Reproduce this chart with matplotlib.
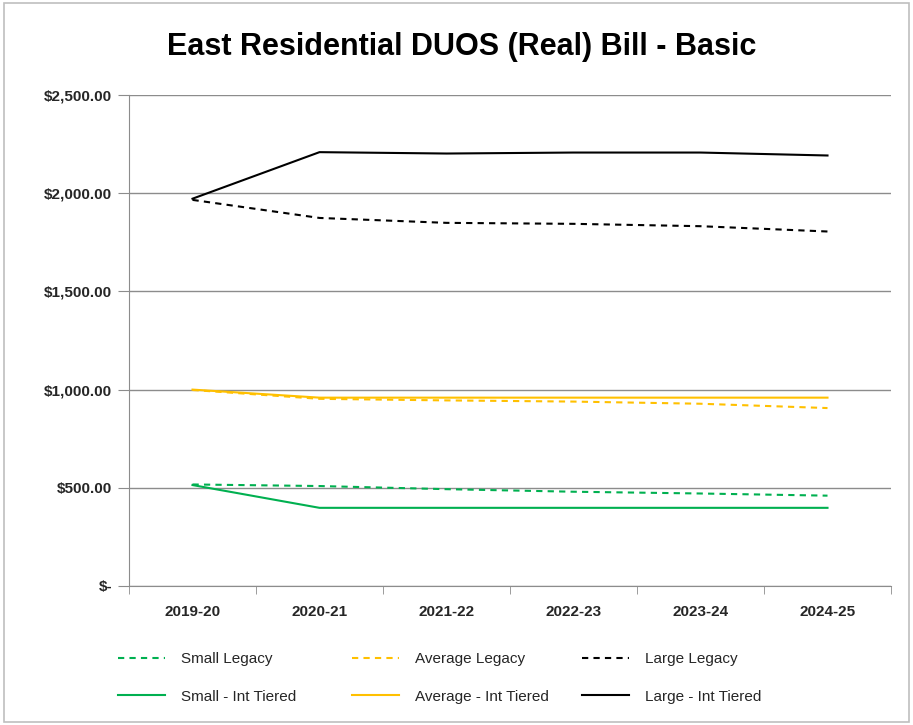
import matplotlib
matplotlib.use("Agg")
import matplotlib.pyplot as plt
from matplotlib.ticker import FuncFormatter, FixedLocator
from matplotlib.patches import Rectangle

plt.rcParams['font.family'] = ['Liberation Sans', 'DejaVu Sans']

years = ["2019-20", "2020-21", "2021-22", "2022-23", "2023-24", "2024-25"]
small_legacy = [517, 509, 493, 480, 471, 460]
average_legacy = [998, 953, 945, 939, 928, 906]
large_legacy = [1966, 1874, 1849, 1844, 1832, 1805]
small_tiered = [514, 398, 398, 398, 398, 398]
average_tiered = [1000, 959, 959, 959, 959, 959]
large_tiered = [1972, 2209, 2202, 2207, 2207, 2192]

green = "#00B050"
yellow = "#FFC000"
black = "#000000"

fig = plt.figure(figsize=(9.13, 7.25), dpi=100)
fig.patches.append(Rectangle((0.004, 0.004), 0.992, 0.992, transform=fig.transFigure,
                             fill=False, edgecolor="#BFBFBF", linewidth=1.2))
ax = fig.add_axes([129/913, 1 - 586/725, (891-129)/913, (586-95)/725])

x = list(range(len(years)))
lw = 1.5
dash = (0, (3, 2.5))
l_sl, = ax.plot(x, small_legacy, color=green, lw=lw, ls=dash, label="Small Legacy")
l_st, = ax.plot(x, small_tiered, color=green, lw=lw, label="Small - Int Tiered")
l_al, = ax.plot(x, average_legacy, color=yellow, lw=lw, ls=dash, label="Average Legacy")
l_at, = ax.plot(x, average_tiered, color=yellow, lw=lw, label="Average - Int Tiered")
l_ll, = ax.plot(x, large_legacy, color=black, lw=lw, ls=dash, label="Large Legacy")
l_lt, = ax.plot(x, large_tiered, color=black, lw=lw, label="Large - Int Tiered")

ax.set_xlim(-0.5, len(years) - 0.5)
ax.set_ylim(0, 2500)
ax.set_yticks([0, 500, 1000, 1500, 2000, 2500])

def fmt(v, pos):
    if v == 0:
        return "$-"
    return "${:,.2f}".format(v)
ax.yaxis.set_major_formatter(FuncFormatter(fmt))
ax.grid(axis='y', color="#8C8C8C", lw=1)
ax.set_axisbelow(True)

ax.set_xticks(x)
ax.set_xticklabels(years)
ax.xaxis.set_minor_locator(FixedLocator([i - 0.5 for i in range(len(years) + 1)]))
ax.tick_params(axis='x', which='major', length=0, pad=14, labelsize=11)
ax.tick_params(axis='x', which='minor', length=6, color="#8C8C8C", direction='out')
ax.tick_params(axis='y', length=8, color="#8C8C8C", labelsize=11, pad=4)
for lab in ax.get_xticklabels() + ax.get_yticklabels():
    lab.set_fontweight('bold')
    lab.set_color('#262626')

for s in ['top', 'right']:
    ax.spines[s].set_visible(False)
ax.spines['left'].set_color("#8C8C8C")
ax.spines['bottom'].set_color("#8C8C8C")

fig.text(462/913, 1 - 47/725, "East Residential DUOS (Real) Bill - Basic", ha='center', va='center',
         fontsize=22, fontweight='bold')

col_x = [118, 352, 582]
groups = [(l_sl, l_st), (l_al, l_at), (l_ll, l_lt)]
for cx, grp in zip(col_x, groups):
    leg = fig.legend(handles=list(grp), loc='center left', bbox_to_anchor=(cx/913, 1 - 678/725),
                     ncol=1, frameon=False, fontsize=11, handlelength=3.1, borderpad=0,
                     borderaxespad=0, labelspacing=1.55, handletextpad=1.0)
    for t in leg.get_texts():
        t.set_color('#262626')

fig.savefig("out.png", dpi=100)
